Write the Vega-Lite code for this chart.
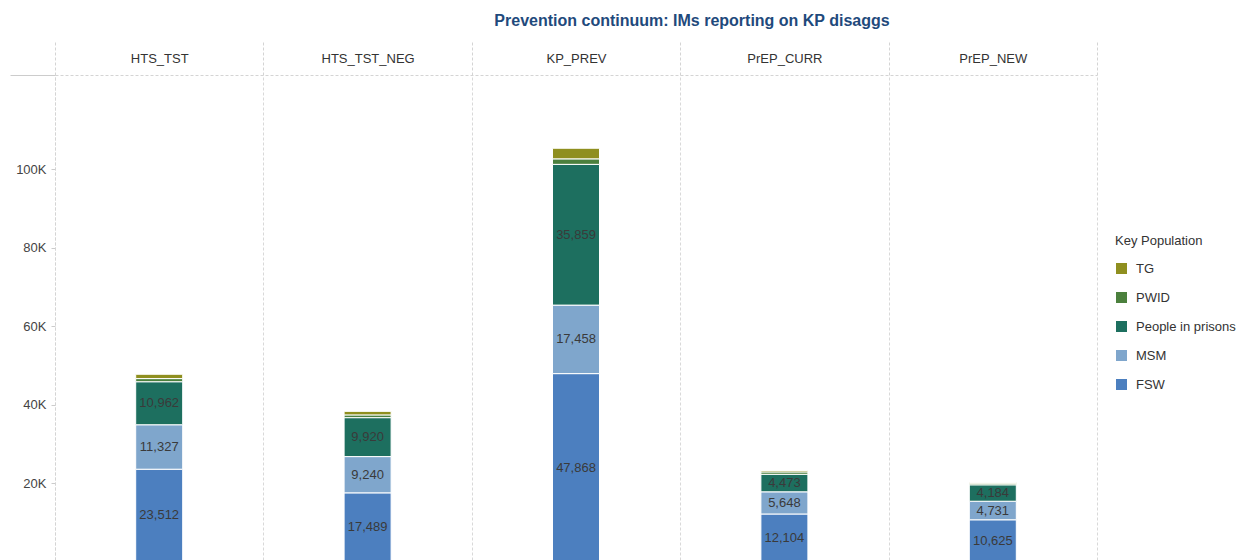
{
  "$schema": "https://vega.github.io/schema/vega-lite/v6.json",
  "autosize": {"type": "none"},
  "width": 1042,
  "height": 485,
  "padding": {"left": 55, "top": 75, "right": 140, "bottom": 0},
  "background": "white",
  "title": {
    "text": "Prevention continuum: IMs reporting on KP disaggs",
    "anchor": "middle",
    "dx": 116,
    "offset": 13,
    "font": "Liberation Sans",
    "fontSize": 16,
    "fontWeight": "bold",
    "color": "#1f4a7c"
  },
  "config": {
    "view": {"stroke": null},
    "font": "Liberation Sans"
  },
  "data": {
    "values": [
      {"indicator": "HTS_TST", "pop": "FSW", "v": 23512},
      {"indicator": "HTS_TST", "pop": "MSM", "v": 11327},
      {"indicator": "HTS_TST", "pop": "People in prisons", "v": 10962},
      {"indicator": "HTS_TST", "pop": "PWID", "v": 800},
      {"indicator": "HTS_TST", "pop": "TG", "v": 1100},
      {"indicator": "HTS_TST_NEG", "pop": "FSW", "v": 17489},
      {"indicator": "HTS_TST_NEG", "pop": "MSM", "v": 9240},
      {"indicator": "HTS_TST_NEG", "pop": "People in prisons", "v": 9920},
      {"indicator": "HTS_TST_NEG", "pop": "PWID", "v": 700},
      {"indicator": "HTS_TST_NEG", "pop": "TG", "v": 900},
      {"indicator": "KP_PREV", "pop": "FSW", "v": 47868},
      {"indicator": "KP_PREV", "pop": "MSM", "v": 17458},
      {"indicator": "KP_PREV", "pop": "People in prisons", "v": 35859},
      {"indicator": "KP_PREV", "pop": "PWID", "v": 1400},
      {"indicator": "KP_PREV", "pop": "TG", "v": 2700},
      {"indicator": "PrEP_CURR", "pop": "FSW", "v": 12104},
      {"indicator": "PrEP_CURR", "pop": "MSM", "v": 5648},
      {"indicator": "PrEP_CURR", "pop": "People in prisons", "v": 4473},
      {"indicator": "PrEP_CURR", "pop": "PWID", "v": 600},
      {"indicator": "PrEP_CURR", "pop": "TG", "v": 350},
      {"indicator": "PrEP_NEW", "pop": "FSW", "v": 10625},
      {"indicator": "PrEP_NEW", "pop": "MSM", "v": 4731},
      {"indicator": "PrEP_NEW", "pop": "People in prisons", "v": 4184},
      {"indicator": "PrEP_NEW", "pop": "PWID", "v": 400},
      {"indicator": "PrEP_NEW", "pop": "TG", "v": 200}
    ]
  },
  "transform": [
    {"calculate": "indexof(['FSW', 'MSM', 'People in prisons', 'PWID', 'TG'], datum.pop)", "as": "stackRank"}
  ],
  "encoding": {
    "x": {
      "field": "indicator",
      "type": "nominal",
      "sort": ["HTS_TST", "HTS_TST_NEG", "KP_PREV", "PrEP_CURR", "PrEP_NEW"],
      "scale": {"paddingInner": 0, "paddingOuter": 0},
      "axis": {
        "orient": "top",
        "title": null,
        "labelAngle": 0,
        "labelFontSize": 13,
        "labelColor": "#333333",
        "labelPadding": -23,
        "tickBand": "extent",
        "tickSize": 33,
        "tickColor": "#d4d4d4",
        "tickDash": [3, 2],
        "domainColor": "#d4d4d4",
        "domainDash": [3, 2],
        "grid": true,
        "gridColor": "#d9d9d9",
        "gridDash": [3, 2]
      }
    }
  },
  "layer": [
    {
      "mark": {"type": "bar", "size": 47, "clip": true, "stroke": "white", "strokeWidth": 1},
      "encoding": {
        "y": {
          "field": "v",
          "type": "quantitative",
          "stack": "zero",
          "scale": {"domain": [382, 123950], "zero": false, "nice": false},
          "axis": {
            "title": null,
            "values": [20000, 40000, 60000, 80000, 100000, 123950],
            "labelExpr": "datum.value > 110000 ? '' : (datum.value / 1000) + 'K'",
            "labelFontSize": 13,
            "labelColor": "#444444",
            "labelPadding": 5,
            "tickSize": {"condition": {"test": "datum.value > 110000", "value": 45}, "value": 4},
            "tickColor": "#cccccc",
            "domainColor": "#d4d4d4",
            "domainDash": [3, 2],
            "grid": false
          }
        },
        "order": {"field": "stackRank", "type": "quantitative"},
        "color": {
          "field": "pop",
          "type": "nominal",
          "scale": {
            "domain": ["TG", "PWID", "People in prisons", "MSM", "FSW"],
            "range": ["#8f8f1f", "#4b803d", "#1d6f5f", "#7fa6cc", "#4c7fbf"]
          },
          "legend": {
            "title": "Key Population",
            "orient": "none",
            "legendX": 1060,
            "legendY": 160,
            "padding": 0,
            "titleFont": "Liberation Sans",
            "titleFontSize": 13,
            "titleFontWeight": "normal",
            "titleColor": "#333333",
            "titlePadding": 14,
            "labelFontSize": 13,
            "labelColor": "#333333",
            "labelOffset": 8,
            "symbolType": "square",
            "symbolSize": 121,
            "symbolStrokeWidth": 0,
            "rowPadding": 15
          }
        }
      }
    },
    {
      "transform": [
        {"filter": "datum.stackRank <= 2"},
        {"stack": "v", "groupby": ["indicator"], "sort": [{"field": "stackRank"}], "as": ["v0", "v1"]},
        {"calculate": "(datum.v0 + datum.v1) / 2", "as": "mid"}
      ],
      "mark": {"type": "text", "fontSize": 13, "color": "#3a3a3a", "baseline": "middle"},
      "encoding": {
        "y": {"field": "mid", "type": "quantitative"},
        "text": {"field": "v", "type": "quantitative", "format": ","}
      }
    }
  ]
}
